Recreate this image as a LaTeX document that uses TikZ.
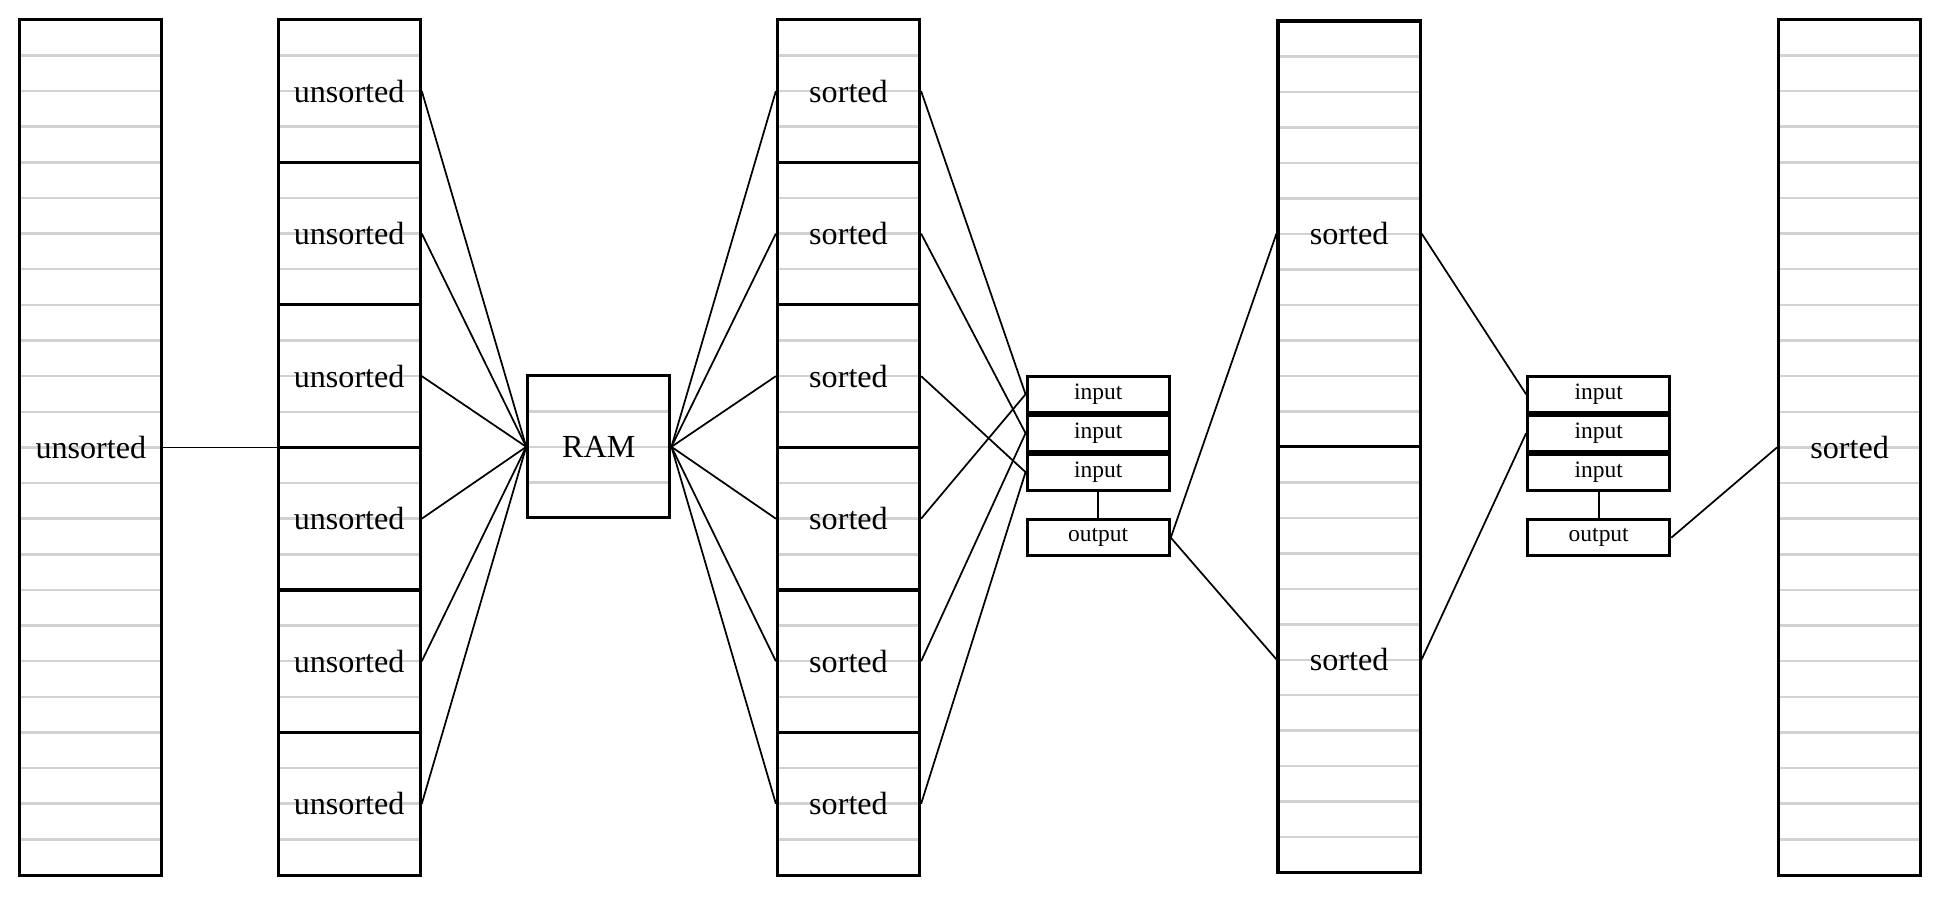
\documentclass[tikz,border=0pt]{standalone}
\usepackage{fontspec}
\setmainfont{Liberation Serif}
\begin{document}
\begin{tikzpicture}[x=0.5pt,y=-0.5pt,
  box/.style={draw,line width=1.25pt,minimum width=57.5pt,inner sep=0pt,font=\fontsize{13}{13}\selectfont},
  small/.style={draw,line width=1.25pt,minimum width=57.5pt,minimum height=14.5pt,inner sep=0pt,font=\fontsize{9.5}{9.5}\selectfont},
  stripe/.style={draw=gray!35,line width=1pt},
  link/.style={line width=0.7pt}]
\useasboundingbox (0,0) rectangle (1568,730);
% stripes
\foreach \x in {16,225,629,1439}{
  \foreach \i in {1,...,23}{\draw[stripe] (\x,16+\i*28.83) -- ++(115,0);}}
\foreach \i in {1,...,23}{\draw[stripe] (1034,17+\i*28.71) -- ++(115,0);}
\foreach \i in {1,2,3}{\draw[stripe] (427,304+\i*28.75) -- ++(115,0);}
% column 1
\node[box,minimum height=346pt] (c1) at (73.5,362) {unsorted};
% column 2
\foreach \k in {1,...,6}{
  \node[box,minimum height=57.67pt] (u\k) at (282.5,{16+115.33*(\k-0.5)}) {unsorted};}
% RAM
\node[box,minimum height=57.5pt] (ram) at (484.5,361.5) {RAM};
% column 3
\foreach \k in {1,...,6}{
  \node[box,minimum height=57.67pt] (s\k) at (686.5,{16+115.33*(\k-0.5)}) {sorted};}
% merge 1
\node[small] (a1) at (888.5,319) {input};
\node[small,anchor=north] (a2) at (a1.south) {input};
\node[small,anchor=north] (a3) at (a2.south) {input};
\node[small] (ao) at (888.5,435) {output};
% column 4
\node[box,minimum height=172pt] (d1) at (1091.5,189) {sorted};
\node[box,minimum height=172.5pt] (d2) at (1091.5,533.5) {sorted};
% merge 2
\node[small] (b1) at (1293.5,319) {input};
\node[small,anchor=north] (b2) at (b1.south) {input};
\node[small,anchor=north] (b3) at (b2.south) {input};
\node[small] (bo) at (1293.5,435) {output};
% column 5
\node[box,minimum height=346pt] (c5) at (1496.5,362) {sorted};
% links
\draw[link] (c1.east) -- (u4.west |- c1.east);
\foreach \k in {1,...,6}{
  \draw[link] (u\k.east) -- (ram.west);
  \draw[link] (ram.east) -- (s\k.west);}
\draw[link] (s1.east) -- (a1.west);
\draw[link] (s2.east) -- (a2.west);
\draw[link] (s3.east) -- (a3.west);
\draw[link] (s4.east) -- (a1.west);
\draw[link] (s5.east) -- (a2.west);
\draw[link] (s6.east) -- (a3.west);
\draw[link] (a3.south) -- (ao.north);
\draw[link] (ao.east) -- (d1.west);
\draw[link] (ao.east) -- (d2.west);
\draw[link] (d1.east) -- (b1.west);
\draw[link] (d2.east) -- (b2.west);
\draw[link] (b3.south) -- (bo.north);
\draw[link] (bo.east) -- (c5.west);
\end{tikzpicture}
\end{document}
